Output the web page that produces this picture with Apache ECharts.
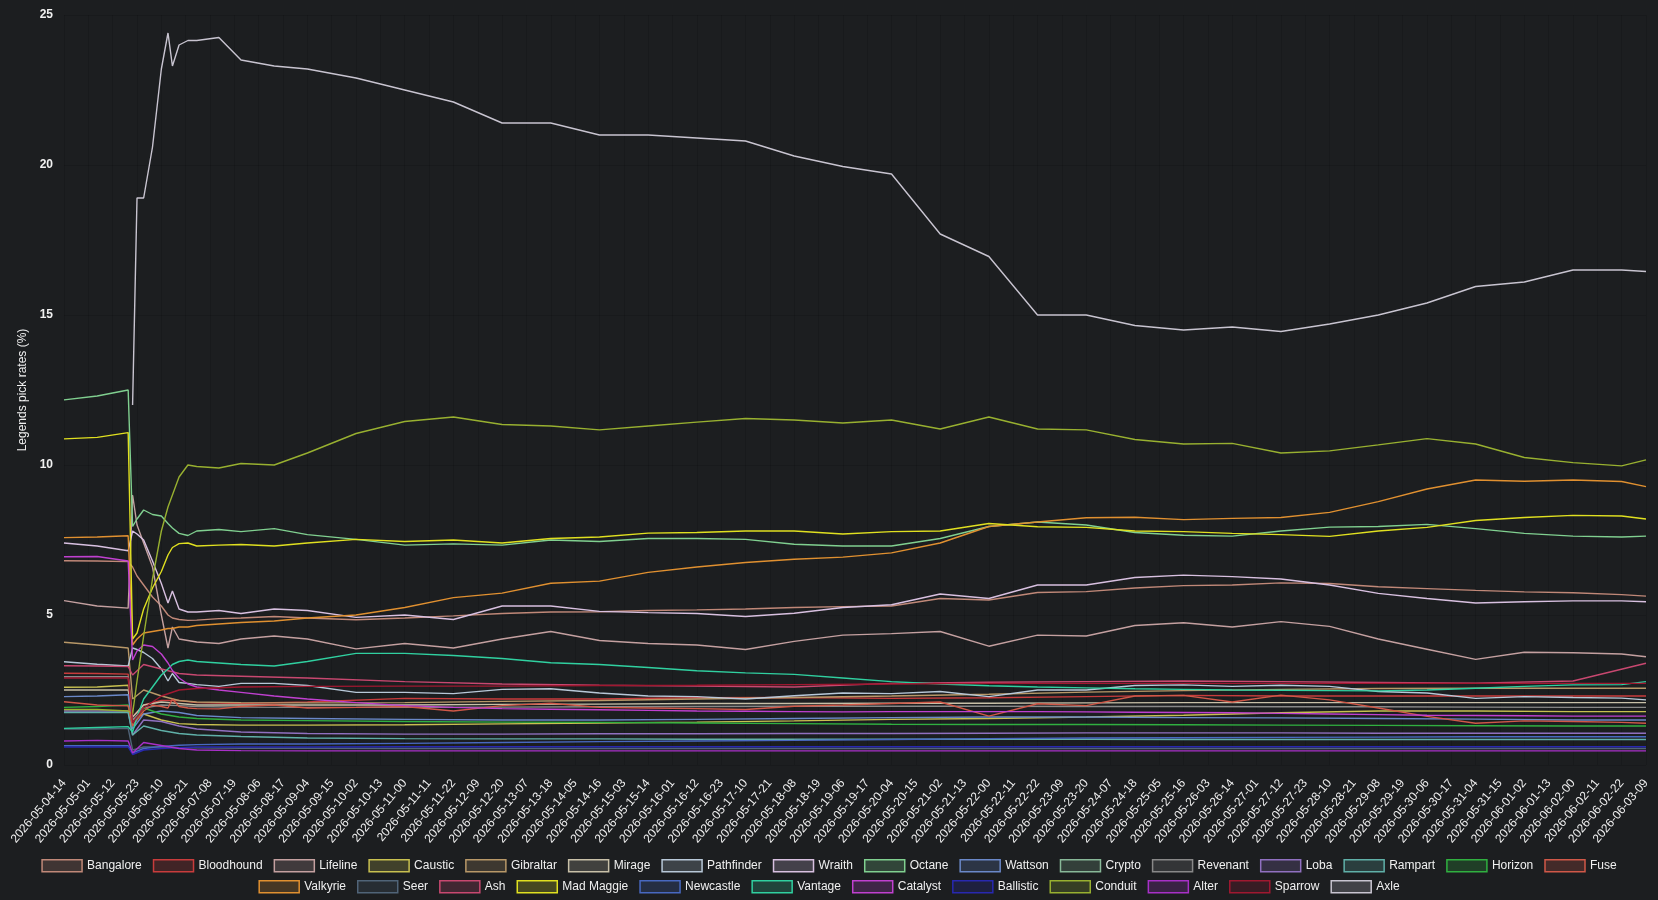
<!DOCTYPE html>
<html>
<head>
<meta charset="utf-8">
<title>Legends pick rates</title>
<script src="https://cdn.jsdelivr.net/npm/echarts@6/dist/echarts.min.js"></script>
<style>
  html, body { margin: 0; padding: 0; background: #1c1e20; }
  #main { width: 1658px; height: 900px; }
</style>
</head>
<body>
<div id="main"></div>
<script>
// sample hours counted from 2026-05-04 14:00
var hoursFine = [0, 15, 29, 31, 33, 36, 40, 44, 47, 49, 52, 56, 60, 70, 80, 95, 110, 132, 154, 176, 198, 220, 242, 264, 286, 308, 330, 352, 374, 396, 418, 440, 462, 484, 506, 528, 550, 572, 594, 616, 638, 660, 682, 704, 715];
var hoursCoarse = [0, 15, 29, 31, 36, 44, 52, 60, 80, 110, 154, 198, 242, 286, 330, 374, 418, 462, 506, 550, 594, 638, 682, 715];

// pick rates (%) on hoursFine
var axle = [null, null, null, 12.0, 18.9, 18.9, 20.6, 23.2, 24.4, 23.3, 24.0, 24.15, 24.15, 24.25, 23.5, 23.3, 23.2, 22.9, 22.5, 22.1, 21.4, 21.4, 21.0, 21.0, 20.9, 20.8, 20.3, 19.95, 19.7, 17.7, 16.95, 15.0, 15.0, 14.65, 14.5, 14.6, 14.45, 14.7, 15.0, 15.4, 15.95, 16.1, 16.5, 16.5, 16.45];
var conduit = [1.85, 1.85, 1.8, 1.7, 2.8, 4.3, 6.2, 7.8, 8.6, 9.0, 9.6, 10.0, 9.95, 9.9, 10.05, 10.0, 10.4, 11.05, 11.45, 11.6, 11.35, 11.3, 11.17, 11.3, 11.43, 11.55, 11.5, 11.4, 11.5, 11.2, 11.6, 11.2, 11.17, 10.85, 10.7, 10.72, 10.4, 10.47, 10.67, 10.88, 10.7, 10.25, 10.08, 9.97, 10.17];
var valkyrie = [7.58, 7.6, 7.64, 4.0, 4.2, 4.4, 4.45, 4.5, 4.55, 4.55, 4.6, 4.6, 4.65, 4.7, 4.75, 4.8, 4.9, 5.0, 5.25, 5.58, 5.73, 6.06, 6.13, 6.42, 6.6, 6.75, 6.86, 6.93, 7.07, 7.4, 7.95, 8.1, 8.24, 8.26, 8.18, 8.22, 8.25, 8.42, 8.78, 9.2, 9.5, 9.46, 9.5, 9.45, 9.28];
var madMaggie = [10.87, 10.92, 11.08, 4.2, 4.4, 5.2, 5.9, 6.45, 7.0, 7.25, 7.38, 7.4, 7.3, 7.33, 7.35, 7.3, 7.4, 7.52, 7.45, 7.5, 7.4, 7.55, 7.6, 7.73, 7.75, 7.8, 7.8, 7.7, 7.78, 7.8, 8.05, 7.94, 7.92, 7.8, 7.78, 7.72, 7.68, 7.62, 7.8, 7.92, 8.15, 8.25, 8.32, 8.3, 8.2];
var octane = [12.17, 12.3, 12.5, 7.95, 8.2, 8.5, 8.35, 8.3, 8.05, 7.9, 7.72, 7.65, 7.8, 7.85, 7.78, 7.88, 7.68, 7.52, 7.33, 7.37, 7.33, 7.5, 7.45, 7.55, 7.55, 7.52, 7.36, 7.3, 7.3, 7.55, 7.95, 8.1, 8.0, 7.75, 7.66, 7.63, 7.8, 7.93, 7.95, 8.02, 7.88, 7.72, 7.63, 7.6, 7.63];
var wraith = [7.4, 7.3, 7.14, 7.8, 7.7, 7.5, 6.8, 6.05, 5.4, 5.8, 5.2, 5.1, 5.1, 5.15, 5.05, 5.2, 5.15, 4.92, 5.0, 4.85, 5.3, 5.3, 5.12, 5.08, 5.05, 4.95, 5.06, 5.25, 5.34, 5.7, 5.55, 6.0, 6.0, 6.25, 6.33, 6.28, 6.2, 6.0, 5.72, 5.55, 5.4, 5.44, 5.47, 5.47, 5.44];
var bangalore = [6.81, 6.8, 6.78, 6.6, 6.3, 6.0, 5.6, 5.3, 5.0, 4.9, 4.85, 4.82, 4.83, 4.88, 4.9, 4.95, 4.9, 4.84, 4.9, 4.97, 5.05, 5.1, 5.11, 5.15, 5.17, 5.2, 5.25, 5.28, 5.3, 5.55, 5.5, 5.75, 5.78, 5.9, 5.98, 6.0, 6.07, 6.05, 5.94, 5.88, 5.82, 5.77, 5.74, 5.68, 5.63];
var lifeline = [5.48, 5.3, 5.23, 9.0, 8.0, 7.4, 6.6, 5.0, 3.9, 4.6, 4.2, 4.15, 4.1, 4.05, 4.2, 4.3, 4.2, 3.87, 4.05, 3.9, 4.2, 4.45, 4.15, 4.05, 4.0, 3.85, 4.12, 4.33, 4.38, 4.45, 3.96, 4.33, 4.3, 4.65, 4.74, 4.6, 4.78, 4.62, 4.2, 3.86, 3.52, 3.76, 3.74, 3.7, 3.61];
var catalyst = [6.94, 6.95, 6.8, 3.5, 3.8, 4.0, 3.95, 3.7, 3.4, 3.15, 2.9, 2.7, 2.6, 2.5, 2.42, 2.3, 2.2, 2.08, 1.98, 1.92, 1.88, 1.86, 1.84, 1.82, 1.8, 1.79, 1.78, 1.77, 1.78, 1.78, 1.78, 1.78, 1.77, 1.76, 1.75, 1.74, 1.72, 1.7, 1.68, 1.66, 1.65, 1.64, 1.63, 1.63, 1.63];
var vantage = [1.22, 1.25, 1.28, 1.1, 1.6, 2.2, 2.6, 3.0, 3.2, 3.35, 3.45, 3.5, 3.45, 3.4, 3.35, 3.3, 3.45, 3.72, 3.72, 3.65, 3.55, 3.41, 3.35, 3.25, 3.14, 3.07, 3.02, 2.9, 2.78, 2.7, 2.64, 2.6, 2.57, 2.54, 2.52, 2.5, 2.49, 2.48, 2.47, 2.5, 2.56, 2.62, 2.67, 2.68, 2.78];
var pathfinder = [3.44, 3.36, 3.3, 3.9, 3.85, 3.75, 3.55, 3.2, 2.8, 3.05, 2.75, 2.72, 2.68, 2.62, 2.72, 2.72, 2.65, 2.42, 2.42, 2.38, 2.52, 2.54, 2.4, 2.3, 2.28, 2.2, 2.31, 2.4, 2.38, 2.45, 2.28, 2.5, 2.5, 2.65, 2.67, 2.62, 2.66, 2.62, 2.45, 2.4, 2.22, 2.28, 2.25, 2.23, 2.17];
var fuse = [2.11, 2.0, 1.97, 1.3, 1.5, 1.8, 2.0, 1.95, 1.9, 2.2, 1.95, 1.9, 1.88, 1.87, 1.95, 2.0, 1.9, 1.92, 1.95, 1.8, 1.98, 2.06, 1.92, 1.9, 1.88, 1.85, 1.96, 2.0, 2.05, 2.1, 1.63, 2.04, 1.98, 2.3, 2.32, 2.1, 2.33, 2.17, 1.9, 1.62, 1.39, 1.47, 1.45, 1.42, 1.39];

// pick rates (%) on hoursCoarse
var ash = [3.31, 3.3, 3.28, 3.0, 3.35, 3.2, 3.05, 3.0, 2.96, 2.9, 2.78, 2.7, 2.66, 2.63, 2.6, 2.72, 2.76, 2.78, 2.8, 2.78, 2.75, 2.73, 2.8, 3.39];
var bloodhound = [3.06, 3.05, 3.03, 1.6, 2.0, 2.15, 2.15, 2.08, 2.05, 2.1, 2.22, 2.2, 2.2, 2.24, 2.25, 2.22, 2.24, 2.28, 2.32, 2.3, 2.3, 2.3, 2.3, 2.3];
var caustic = [2.59, 2.6, 2.66, 1.5, 1.7, 1.5, 1.38, 1.35, 1.33, 1.33, 1.34, 1.37, 1.4, 1.43, 1.47, 1.52, 1.55, 1.6, 1.66, 1.74, 1.8, 1.8, 1.78, 1.78];
var gibraltar = [4.09, 4.0, 3.9, 2.2, 2.5, 2.3, 2.15, 2.1, 2.08, 2.07, 2.08, 2.12, 2.15, 2.2, 2.25, 2.3, 2.36, 2.43, 2.48, 2.52, 2.55, 2.56, 2.56, 2.56];
var mirage = [2.5, 2.5, 2.5, 1.6, 2.0, 2.1, 2.05, 2.0, 2.0, 2.0, 2.0, 2.02, 2.03, 2.05, 2.05, 2.06, 2.06, 2.07, 2.08, 2.08, 2.08, 2.08, 2.08, 2.08];
var revenant = [2.94, 2.94, 2.94, 1.5, 1.9, 2.0, 1.98, 1.95, 1.93, 1.92, 1.92, 1.93, 1.94, 1.95, 1.96, 1.96, 1.96, 1.95, 1.95, 1.94, 1.94, 1.93, 1.92, 1.92];
var wattson = [2.28, 2.3, 2.34, 1.2, 1.7, 1.8, 1.75, 1.65, 1.58, 1.55, 1.52, 1.5, 1.5, 1.52, 1.55, 1.58, 1.6, 1.6, 1.58, 1.57, 1.55, 1.53, 1.5, 1.5];
var horizon = [1.92, 1.95, 2.0, 1.3, 1.9, 1.7, 1.6, 1.55, 1.5, 1.48, 1.45, 1.43, 1.42, 1.4, 1.38, 1.36, 1.35, 1.35, 1.34, 1.33, 1.32, 1.31, 1.3, 1.3];
var loba = [1.8, 1.8, 1.8, 1.0, 1.5, 1.45, 1.3, 1.2, 1.1, 1.05, 1.03, 1.03, 1.04, 1.04, 1.05, 1.05, 1.06, 1.07, 1.07, 1.07, 1.06, 1.06, 1.06, 1.06];
var crypto = [0.94, 0.94, 0.94, 0.45, 0.55, 0.6, 0.6, 0.58, 0.58, 0.6, 0.63, 0.66, 0.7, 0.73, 0.76, 0.77, 0.78, 0.78, 0.78, 0.78, 0.78, 0.78, 0.78, 0.78];
var rampart = [1.75, 1.75, 1.75, 1.0, 1.3, 1.15, 1.05, 1.0, 0.95, 0.9, 0.88, 0.87, 0.87, 0.86, 0.86, 0.86, 0.86, 0.86, 0.85, 0.85, 0.85, 0.85, 0.85, 0.85];
var seer = [1.2, 1.2, 1.22, 0.5, 0.6, 0.6, 0.58, 0.57, 0.56, 0.56, 0.55, 0.55, 0.55, 0.55, 0.55, 0.55, 0.55, 0.55, 0.55, 0.55, 0.55, 0.55, 0.55, 0.55];
var newcastle = [0.64, 0.64, 0.64, 0.4, 0.55, 0.62, 0.66, 0.68, 0.7, 0.7, 0.72, 0.75, 0.78, 0.8, 0.82, 0.85, 0.88, 0.9, 0.91, 0.92, 0.93, 0.94, 0.94, 0.94];
var ballistic = [0.6, 0.6, 0.6, 0.35, 0.5, 0.55, 0.58, 0.6, 0.6, 0.6, 0.61, 0.61, 0.61, 0.61, 0.61, 0.61, 0.61, 0.61, 0.61, 0.61, 0.61, 0.61, 0.61, 0.61];
var alter = [0.8, 0.82, 0.8, 0.4, 0.75, 0.65, 0.55, 0.5, 0.48, 0.47, 0.47, 0.47, 0.47, 0.47, 0.47, 0.47, 0.47, 0.47, 0.47, 0.47, 0.47, 0.47, 0.47, 0.47];
var sparrow = [2.9, 2.9, 2.9, 1.4, 1.9, 2.3, 2.5, 2.55, 2.6, 2.62, 2.63, 2.63, 2.65, 2.66, 2.68, 2.7, 2.72, 2.72, 2.72, 2.72, 2.72, 2.72, 2.72, 2.72];

// legend order, two rows
var legendRow1 = ['Bangalore', 'Bloodhound', 'Lifeline', 'Caustic', 'Gibraltar', 'Mirage', 'Pathfinder', 'Wraith', 'Octane', 'Wattson', 'Crypto', 'Revenant', 'Loba', 'Rampart', 'Horizon', 'Fuse'];
var legendRow2 = ['Valkyrie', 'Seer', 'Ash', 'Mad Maggie', 'Newcastle', 'Vantage', 'Catalyst', 'Ballistic', 'Conduit', 'Alter', 'Sparrow', 'Axle'];

var legends = [
  { name: 'Bangalore', color: '#c08878', hours: hoursFine, values: bangalore },
  { name: 'Bloodhound', color: '#c83c3c', hours: hoursCoarse, values: bloodhound },
  { name: 'Lifeline', color: '#c4a0a0', hours: hoursFine, values: lifeline },
  { name: 'Caustic', color: '#c8c050', hours: hoursCoarse, values: caustic },
  { name: 'Gibraltar', color: '#b89868', hours: hoursCoarse, values: gibraltar },
  { name: 'Mirage', color: '#c8c0a8', hours: hoursCoarse, values: mirage },
  { name: 'Pathfinder', color: '#b8c8d8', hours: hoursFine, values: pathfinder },
  { name: 'Wraith', color: '#d8c0e0', hours: hoursFine, values: wraith },
  { name: 'Octane', color: '#80d090', hours: hoursFine, values: octane },
  { name: 'Wattson', color: '#6a88c8', hours: hoursCoarse, values: wattson },
  { name: 'Crypto', color: '#88b898', hours: hoursCoarse, values: crypto },
  { name: 'Revenant', color: '#888888', hours: hoursCoarse, values: revenant },
  { name: 'Loba', color: '#9070c0', hours: hoursCoarse, values: loba },
  { name: 'Rampart', color: '#60b0a8', hours: hoursCoarse, values: rampart },
  { name: 'Horizon', color: '#30b040', hours: hoursCoarse, values: horizon },
  { name: 'Fuse', color: '#d05848', hours: hoursFine, values: fuse },
  { name: 'Valkyrie', color: '#e09030', hours: hoursFine, values: valkyrie },
  { name: 'Seer', color: '#506478', hours: hoursCoarse, values: seer },
  { name: 'Ash', color: '#c84870', hours: hoursCoarse, values: ash },
  { name: 'Mad Maggie', color: '#e0e020', hours: hoursFine, values: madMaggie },
  { name: 'Newcastle', color: '#4868c0', hours: hoursCoarse, values: newcastle },
  { name: 'Vantage', color: '#30d0a0', hours: hoursFine, values: vantage },
  { name: 'Catalyst', color: '#c040d0', hours: hoursFine, values: catalyst },
  { name: 'Ballistic', color: '#2828b0', hours: hoursCoarse, values: ballistic },
  { name: 'Conduit', color: '#98b030', hours: hoursFine, values: conduit },
  { name: 'Alter', color: '#a830c8', hours: hoursCoarse, values: alter },
  { name: 'Sparrow', color: '#a01830', hours: hoursCoarse, values: sparrow },
  { name: 'Axle', color: '#c8c4d0', hours: hoursFine, values: axle }
];

var start = Date.UTC(2026, 4, 4, 14);
function pad(n) { return n < 10 ? '0' + n : '' + n; }
function hourLabel(h) {
  var d = new Date(start + h * 3600 * 1000);
  return d.getUTCFullYear() + '-' + pad(d.getUTCMonth() + 1) + '-' + pad(d.getUTCDate()) + '-' + pad(d.getUTCHours());
}
function fade(hex, a) {
  var r = parseInt(hex.substr(1, 2), 16), g = parseInt(hex.substr(3, 2), 16), b = parseInt(hex.substr(5, 2), 16);
  return 'rgba(' + r + ',' + g + ',' + b + ',' + a + ')';
}
function legendData(names) {
  return names.map(function (n) {
    var l = legends.filter(function (x) { return x.name === n; })[0];
    return { name: n, itemStyle: { color: fade(l.color, 0.22), borderColor: l.color, borderWidth: 1.5 } };
  });
}

var font = 'Arial, "Liberation Sans", Helvetica, sans-serif';
var chart = echarts.init(document.getElementById('main'));

var series = legends.map(function (l) {
  var pts = [];
  l.hours.forEach(function (h, i) {
    if (l.values[i] !== null) pts.push([h, l.values[i]]);
  });
  return {
    name: l.name,
    type: 'line',
    data: pts,
    showSymbol: false,
    color: l.color,
    lineStyle: { width: 1.4, color: l.color },
    emphasis: { disabled: true },
    animation: false
  };
});

var legendCommon = {
  icon: 'rect',
  itemWidth: 40,
  itemHeight: 12,
  itemGap: 11,
  padding: 0,
  left: 'center',
  textStyle: { color: '#f0f0f0', fontSize: 12, fontFamily: font },
  inactiveColor: '#555'
};

var option = {
  backgroundColor: '#1c1e20',
  animation: false,
  grid: { left: 64, right: 12, top: 15, bottom: 135 },
  legend: [
    Object.assign({}, legendCommon, { top: 859, data: legendData(legendRow1) }),
    Object.assign({}, legendCommon, { top: 880, data: legendData(legendRow2) })
  ],
  xAxis: {
    type: 'value',
    min: 0,
    max: 715,
    interval: 11,
    axisLine: { show: false },
    axisTick: { show: false },
    splitLine: { show: true, lineStyle: { color: 'rgba(0,0,0,0.12)', width: 1 } },
    axisLabel: {
      rotate: 50,
      color: '#f0f0f0',
      fontSize: 12,
      fontFamily: font,
      margin: 16,
      formatter: function (v) { return hourLabel(v); }
    }
  },
  yAxis: {
    type: 'value',
    min: 0,
    max: 25,
    interval: 5,
    name: 'Legends pick rates (%)',
    nameLocation: 'middle',
    nameRotate: 90,
    nameGap: 31,
    nameTextStyle: { color: '#f0f0f0', fontSize: 12, fontFamily: font },
    axisLine: { show: false },
    axisTick: { show: false },
    splitLine: { show: true, lineStyle: { color: 'rgba(0,0,0,0.12)', width: 1 } },
    axisLabel: { color: '#f0f0f0', fontSize: 12, fontWeight: 'bold', fontFamily: font, margin: 11 }
  },
  series: series
};

chart.setOption(option);
</script>
</body>
</html>
